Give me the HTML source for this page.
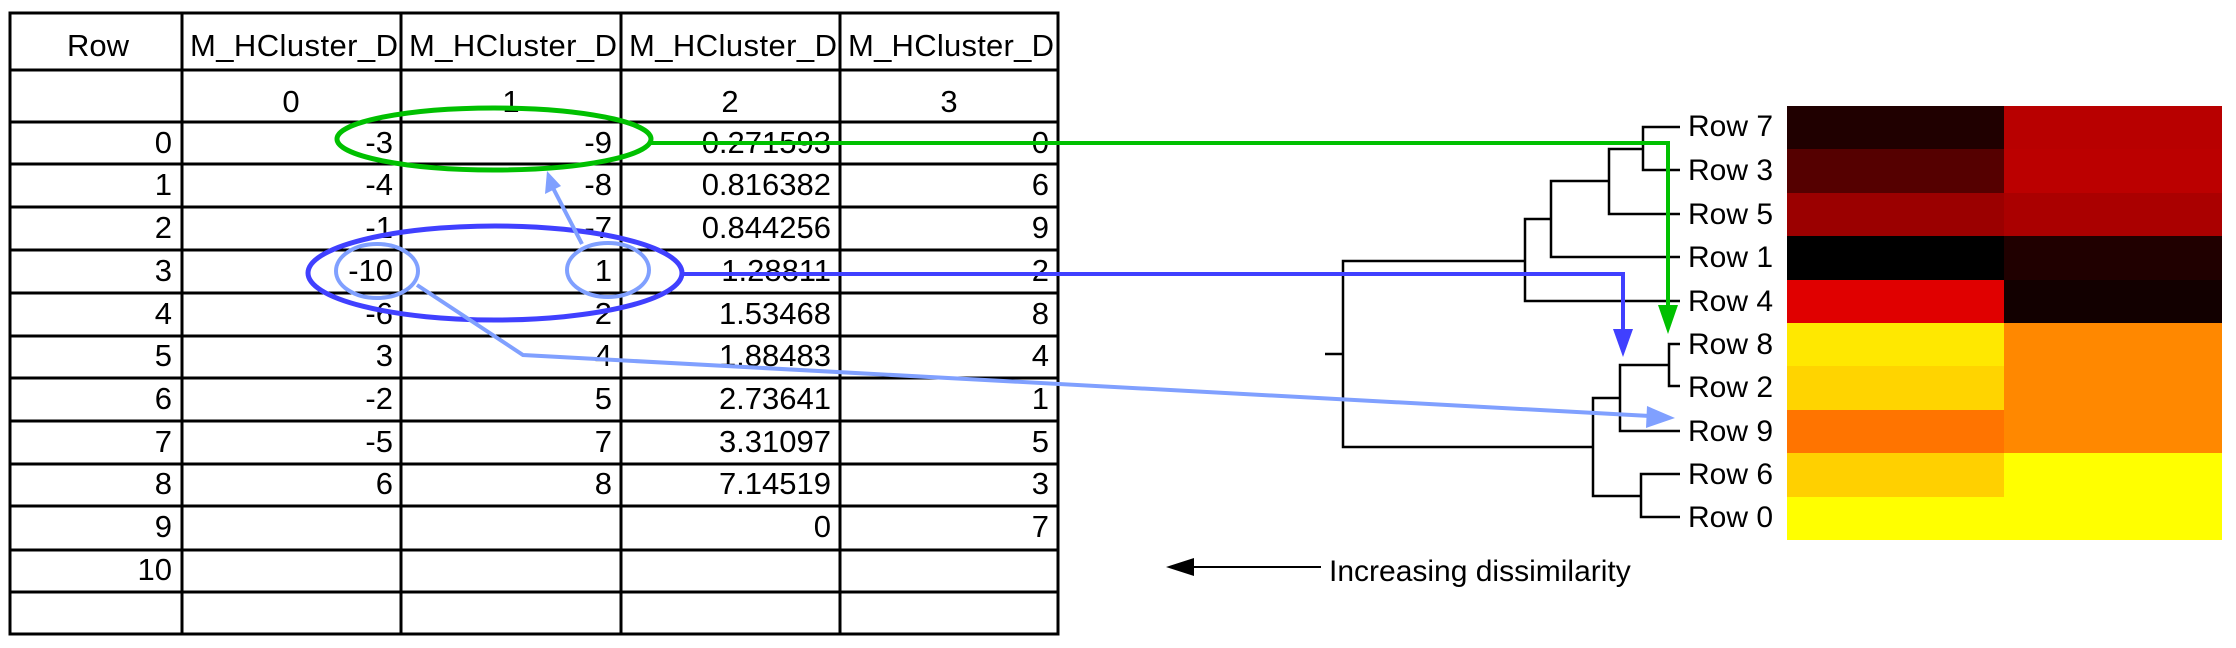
<!DOCTYPE html>
<html><head><meta charset="utf-8"><style>
html,body{margin:0;padding:0;background:#fff;}
svg{display:block;}
text{font-family:"Liberation Sans",Arial,sans-serif;fill:#000;}
</style></head><body>
<svg width="2236" height="648" viewBox="0 0 2236 648" xmlns="http://www.w3.org/2000/svg">
<g stroke="#000" stroke-width="3" fill="none">
<rect x="10" y="13" width="1048" height="621"/>
<line x1="182" y1="13" x2="182" y2="634"/>
<line x1="401" y1="13" x2="401" y2="634"/>
<line x1="621" y1="13" x2="621" y2="634"/>
<line x1="840" y1="13" x2="840" y2="634"/>
<line x1="10" y1="70" x2="1058" y2="70"/>
<line x1="10" y1="122" x2="1058" y2="122"/>
<line x1="10" y1="164" x2="1058" y2="164"/>
<line x1="10" y1="207" x2="1058" y2="207"/>
<line x1="10" y1="250" x2="1058" y2="250"/>
<line x1="10" y1="293" x2="1058" y2="293"/>
<line x1="10" y1="336" x2="1058" y2="336"/>
<line x1="10" y1="378" x2="1058" y2="378"/>
<line x1="10" y1="421" x2="1058" y2="421"/>
<line x1="10" y1="464" x2="1058" y2="464"/>
<line x1="10" y1="506" x2="1058" y2="506"/>
<line x1="10" y1="550" x2="1058" y2="550"/>
<line x1="10" y1="592" x2="1058" y2="592"/>
</g>
<g font-size="31">
<text x="98" y="56" text-anchor="middle">Row</text>
<text x="190" y="56" textLength="208">M_HCluster_D</text>
<text x="409" y="56" textLength="208">M_HCluster_D</text>
<text x="629" y="56" textLength="208">M_HCluster_D</text>
<text x="848" y="56" textLength="206">M_HCluster_D</text>
</g>
<g font-size="31" text-anchor="middle">
<text x="291" y="112">0</text><text x="511" y="112">1</text><text x="730" y="112">2</text><text x="949" y="112">3</text>
</g>
<g font-size="31" text-anchor="end">
<text x="172" y="153">0</text><text x="393" y="153">-3</text><text x="612" y="153">-9</text><text x="831" y="153">0.271593</text><text x="1049" y="153">0</text>
<text x="172" y="195">1</text><text x="393" y="195">-4</text><text x="612" y="195">-8</text><text x="831" y="195">0.816382</text><text x="1049" y="195">6</text>
<text x="172" y="238">2</text><text x="393" y="238">-1</text><text x="612" y="238">-7</text><text x="831" y="238">0.844256</text><text x="1049" y="238">9</text>
<text x="172" y="281">3</text><text x="393" y="281">-10</text><text x="612" y="281">1</text><text x="831" y="281">1.28811</text><text x="1049" y="281">2</text>
<text x="172" y="324">4</text><text x="393" y="324">-6</text><text x="612" y="324">2</text><text x="831" y="324">1.53468</text><text x="1049" y="324">8</text>
<text x="172" y="366">5</text><text x="393" y="366">3</text><text x="612" y="366">4</text><text x="831" y="366">1.88483</text><text x="1049" y="366">4</text>
<text x="172" y="409">6</text><text x="393" y="409">-2</text><text x="612" y="409">5</text><text x="831" y="409">2.73641</text><text x="1049" y="409">1</text>
<text x="172" y="452">7</text><text x="393" y="452">-5</text><text x="612" y="452">7</text><text x="831" y="452">3.31097</text><text x="1049" y="452">5</text>
<text x="172" y="494">8</text><text x="393" y="494">6</text><text x="612" y="494">8</text><text x="831" y="494">7.14519</text><text x="1049" y="494">3</text>
<text x="172" y="537">9</text><text x="831" y="537">0</text><text x="1049" y="537">7</text>
<text x="172" y="580">10</text>
</g>
<g>
<rect x="1787" y="106" width="217" height="44" fill="#200000"/><rect x="2004" y="106" width="218" height="44" fill="#b80000"/>
<rect x="1787" y="149" width="217" height="44" fill="#550000"/><rect x="2004" y="149" width="218" height="44" fill="#bb0000"/>
<rect x="1787" y="193" width="217" height="44" fill="#9b0000"/><rect x="2004" y="193" width="218" height="44" fill="#aa0000"/>
<rect x="1787" y="236" width="217" height="44" fill="#000000"/><rect x="2004" y="236" width="218" height="44" fill="#200000"/>
<rect x="1787" y="280" width="217" height="44" fill="#e00000"/><rect x="2004" y="280" width="218" height="44" fill="#120000"/>
<rect x="1787" y="323" width="217" height="44" fill="#ffe800"/><rect x="2004" y="323" width="218" height="44" fill="#ff8800"/>
<rect x="1787" y="366" width="217" height="44" fill="#ffd400"/><rect x="2004" y="366" width="218" height="44" fill="#ff8800"/>
<rect x="1787" y="410" width="217" height="44" fill="#ff7400"/><rect x="2004" y="410" width="218" height="44" fill="#ff8800"/>
<rect x="1787" y="453" width="217" height="44" fill="#ffd000"/><rect x="2004" y="453" width="218" height="44" fill="#ffff00"/>
<rect x="1787" y="497" width="435" height="43" fill="#ffff00"/>
</g>
<g stroke="#000" stroke-width="2.5" fill="none">
<path d="M1680 127 H1643 V170 H1680"/>
<path d="M1643 149 H1609 V214 H1680"/>
<path d="M1609 181 H1551 V257 H1680"/>
<path d="M1551 219 H1525 V301 H1680"/>
<path d="M1525 261 H1343 V447 H1593"/>
<path d="M1325 354 H1343"/>
<path d="M1680 344 H1669 V386 H1680"/>
<path d="M1669 365 H1620 V431 H1680"/>
<path d="M1620 398 H1593 V496 H1641"/>
<path d="M1680 474 H1641 V517 H1680"/>
</g>
<g font-size="30">
<text x="1688" y="136">Row 7</text>
<text x="1688" y="180">Row 3</text>
<text x="1688" y="224">Row 5</text>
<text x="1688" y="267">Row 1</text>
<text x="1688" y="311">Row 4</text>
<text x="1688" y="354">Row 8</text>
<text x="1688" y="397">Row 2</text>
<text x="1688" y="441">Row 9</text>
<text x="1688" y="484">Row 6</text>
<text x="1688" y="527">Row 0</text>
</g>
<line x1="1180" y1="567" x2="1321" y2="567" stroke="#000" stroke-width="2"/>
<polygon points="1166,567 1194,558 1194,576" fill="#000"/>
<text x="1329" y="581" font-size="30">Increasing dissimilarity</text>
<ellipse cx="494" cy="139" rx="157" ry="31" fill="none" stroke="#00c000" stroke-width="5"/>
<path d="M651 143 H1668 V310" fill="none" stroke="#00c000" stroke-width="4"/>
<polygon points="1668,334 1658,305 1678,305" fill="#00c000"/>
<ellipse cx="495" cy="273" rx="187" ry="47" fill="none" stroke="#4040ff" stroke-width="5"/>
<path d="M682 274 H1623 V334" fill="none" stroke="#4040ff" stroke-width="4"/>
<polygon points="1623,357 1613,329 1633,329" fill="#4040ff"/>
<ellipse cx="377" cy="271" rx="41" ry="27" fill="none" stroke="#80a0ff" stroke-width="4"/>
<ellipse cx="608" cy="270" rx="41" ry="27" fill="none" stroke="#80a0ff" stroke-width="4"/>
<path d="M582 244 L552 186" fill="none" stroke="#80a0ff" stroke-width="4"/>
<polygon points="547,171 545,194 561,186" fill="#80a0ff"/>
<path d="M417 285 L523 355 L1650 416" fill="none" stroke="#80a0ff" stroke-width="4"/>
<polygon points="1675,418 1647,406 1646,428" fill="#80a0ff"/>
</svg>
</body></html>
